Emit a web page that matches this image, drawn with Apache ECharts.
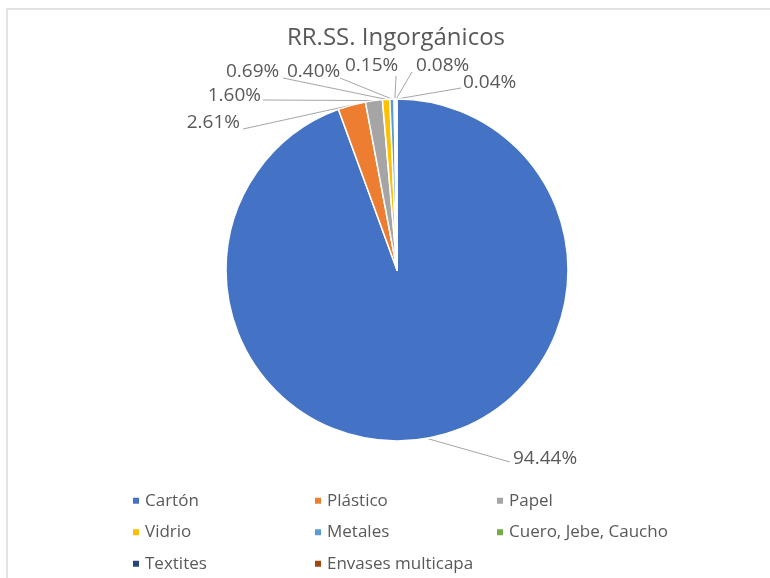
<!DOCTYPE html>
<html>
<head>
<meta charset="utf-8">
<script src="https://cdn.jsdelivr.net/npm/echarts@6/dist/echarts.min.js"></script>
<style>
html,body{margin:0;padding:0;background:#fff;}
#chart{width:770px;height:578px;}
</style>
</head>
<body>
<div id="chart"></div>
<script>
// ---- data ----
const titleText = 'RR.SS. Ingorgánicos';
const categories = ['Cartón', 'Plástico', 'Papel', 'Vidrio', 'Metales', 'Cuero, Jebe, Caucho', 'Textites', 'Envases multicapa'];
const values = [94.44, 2.61, 1.60, 0.69, 0.40, 0.15, 0.08, 0.04];

// ---- styles ----
const colors = ['#4472C4', '#ED7D31', '#A5A5A5', '#FFC000', '#5B9BD5', '#70AD47', '#264478', '#9E480E'];
// label placement: [x, y, align, lineEndX, lineEndY]
const labelPlacement = [
  [513, 459, 'left', 510, 462],
  [240, 123, 'right', 243, 129],
  [261, 96, 'right', 263, 100],
  [226, 72, 'left', 283, 78],
  [287, 72, 'left', 340, 78],
  [345, 66, 'left', 396, 76],
  [416, 66, 'left', 412, 72],
  [463, 83, 'left', 461, 88]
];

const chart = echarts.init(document.getElementById('chart'), null, {renderer: 'canvas'});
chart.setOption({
  animation: false,
  color: colors,
  graphic: [{
    type: 'rect', silent: true, z: -1,
    shape: {x: 7, y: 9, width: 800, height: 600},
    style: {fill: '#ffffff', stroke: '#d9d9d9', lineWidth: 1.5}
  }],
  title: {
    text: titleText,
    left: 396, top: 26, textAlign: 'center', padding: 0,
    textStyle: {fontFamily: 'Open Sans', fontSize: 24, fontWeight: 'normal', color: '#595959'}
  },
  legend: {
    data: categories,
    left: 131, top: 490, width: 545, padding: 0,
    orient: 'horizontal',
    icon: 'rect', itemWidth: 8, itemHeight: 8, itemGap: 10,
    textStyle: {fontFamily: 'Open Sans', fontSize: 17, color: '#595959', width: 158, lineHeight: 21.5}
  },
  series: [{
    type: 'pie',
    center: [397, 270],
    radius: 171,
    startAngle: 90,
    clockwise: true,
    avoidLabelOverlap: false,
    itemStyle: {borderColor: '#ffffff', borderWidth: 1.5},
    label: {
      show: true, position: 'outside',
      formatter: p => p.value.toFixed(2) + '%',
      fontFamily: 'Open Sans', fontSize: 19, color: '#595959'
    },
    labelLine: {show: true, lineStyle: {color: '#a6a6a6', width: 1}},
    labelLayout: function (params) {
      const lp = labelPlacement[params.dataIndex];
      const start = params.labelLinePoints ? params.labelLinePoints[0] : [lp[3], lp[4]];
      return {
        x: lp[0], y: lp[1], align: lp[2], verticalAlign: 'middle',
        labelLinePoints: [start, [lp[3], lp[4]], [lp[3], lp[4]]]
      };
    },
    data: categories.map((c, i) => ({name: c, value: values[i]}))
  }]
});
</script>
</body>
</html>
